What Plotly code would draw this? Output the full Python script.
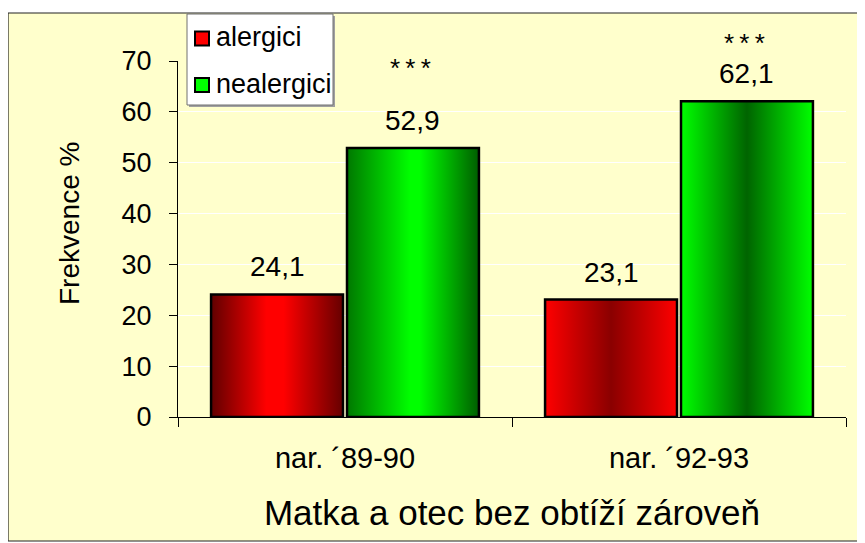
import plotly.graph_objects as go

# ---- data ----
categories = ["nar. \u00b489-90", "nar. \u00b492-93"]
series_names = ["alergici", "nealergici"]
alergici = [24.1, 23.1]
nealergici = [52.9, 62.1]
sig_labels = ["***", "***"]          # significance marks above the nealergici bars
y_ticks = [0, 10, 20, 30, 40, 50, 60, 70]
x_title = "Matka a otec bez obtíží zároveň"
y_title = "Frekvence %"

FONT = "Liberation Sans, Arial, sans-serif"
# the page body has an 8px margin, so the figure is 8px smaller than the window
OFF = 8
W, H = 865 - OFF, 543 - OFF
L, R, T, B = 170, 19, 53, 126
PW, PH = W - L - R, H - T - B


def px_x(p):
    """reference-window pixel x -> paper x"""
    return (p - OFF - L) / PW


def px_y(p):
    """reference-window pixel y -> paper y"""
    return (H - B - (p - OFF)) / PH


bar_w = 0.395
offsets = [-0.2035, 0.2035]
solid = ["#FF0000", "#00FF00"]
grads = {
    (0, 0): [[0, "#600000"], [0.42, "#FF0000"], [0.55, "#FF0000"], [1, "#660000"]],
    (1, 0): [[0, "#007800"], [0.48, "#00FF00"], [0.55, "#00FF00"], [1, "#005E00"]],
    (0, 1): [[0, "#FF0000"], [0.5, "#8A0000"], [1, "#FF0000"]],
    (1, 1): [[0, "#00FF00"], [0.5, "#006400"], [1, "#00FF00"]],
}

fig = go.Figure()
values = [alergici, nealergici]
for s, vals in enumerate(values):
    for i, v in enumerate(vals):
        c = i + offsets[s]
        x0, x1 = c - bar_w / 2, c + bar_w / 2
        fig.add_trace(go.Scatter(
            x=[x0, x1, x1, x0, x0], y=[0, 0, v, v, 0],
            mode="lines", fill="toself",
            fillcolor=solid[s],
            fillgradient=dict(type="horizontal", colorscale=grads[(s, i)]),
            line=dict(color="black", width=2.5),
            name=f"{series_names[s]} – {categories[i]}",
            showlegend=False, hoverinfo="skip",
        ))


def fmt(v):
    return f"{v:.1f}".replace(".", ",")


annotations = []
# value labels
for s, vals in enumerate(values):
    for i, v in enumerate(vals):
        annotations.append(dict(
            x=i + offsets[s], y=v, xref="x", yref="y",
            text=fmt(v), showarrow=False,
            yanchor="bottom", yshift=10,
            font=dict(family=FONT, size=28, color="black"),
        ))
# significance stars (bottom edge of their text box, in window pixels)
sig_bottom = [85.5, 59.5]
for i, lab in enumerate(sig_labels):
    annotations.append(dict(
        x=i + offsets[1] - 0.006, y=px_y(sig_bottom[i]), xref="x", yref="paper",
        text="\u2009".join(lab), showarrow=False, yanchor="bottom",
        font=dict(family=FONT, size=26, color="black"),
    ))
# y axis title
annotations.append(dict(
    x=px_x(70), y=px_y(224), xref="paper", yref="paper",
    text=y_title, textangle=-90, showarrow=False,
    xanchor="center", yanchor="middle",
    font=dict(family=FONT, size=28, color="black"),
))

shapes = []
# panel
shapes.append(dict(type="rect", xref="paper", yref="paper",
                   x0=px_x(8), x1=px_x(864), y0=px_y(541), y1=px_y(13),
                   fillcolor="#FFFFCC", line=dict(color="#222222", width=1.2),
                   layer="below"))

# legend (box, swatches, labels)
leg_x0, leg_x1, leg_y0, leg_y1 = 187, 333, 14, 105
shapes.append(dict(type="rect", xref="paper", yref="paper",
                   x0=px_x(leg_x0 + 2), x1=px_x(leg_x1 + 2),
                   y0=px_y(leg_y1 + 2), y1=px_y(leg_y0 + 2),
                   fillcolor="#A0A0A0", line=dict(width=0), layer="above"))
shapes.append(dict(type="rect", xref="paper", yref="paper",
                   x0=px_x(leg_x0), x1=px_x(leg_x1), y0=px_y(leg_y1), y1=px_y(leg_y0),
                   fillcolor="white", line=dict(color="#707070", width=1), layer="above"))
item_centers = [38.5, 85]
for s, name in enumerate(series_names):
    cy = item_centers[s]
    shapes.append(dict(type="rect", xref="paper", yref="paper",
                       x0=px_x(195), x1=px_x(209), y0=px_y(cy + 7), y1=px_y(cy - 7),
                       fillcolor=solid[s], line=dict(color="black", width=2),
                       layer="above"))
    annotations.append(dict(
        x=px_x(214), y=px_y(cy - 1), xref="paper", yref="paper",
        text=name, showarrow=False, xanchor="left", yanchor="middle",
        font=dict(family=FONT, size=27, color="black"),
    ))

fig.update_layout(
    width=W, height=H,
    margin=dict(l=L, r=R, t=T, b=B, pad=0),
    paper_bgcolor="white", plot_bgcolor="rgba(0,0,0,0)",
    font=dict(family=FONT, color="black"),
    showlegend=False,
    xaxis=dict(
        range=[-0.5, 1.5], tickvals=[0, 1], ticktext=categories,
        ticks="", showgrid=False, zeroline=False,
        showline=True, linecolor="black", linewidth=1,
        tickfont=dict(family=FONT, size=29, color="black"),
        ticklabelstandoff=15,
        minor=dict(tick0=-0.5, dtick=1, ticks="outside", ticklen=9,
                   tickcolor="black", tickwidth=1, showgrid=False),
        title=dict(text=x_title, font=dict(family=FONT, size=35, color="black"),
                   standoff=27),
        fixedrange=True,
    ),
    yaxis=dict(
        range=[0, 70], tickvals=y_ticks, ticks="outside", ticklen=8,
        tickcolor="black", tickwidth=1,
        showgrid=True, gridcolor="white", gridwidth=1.2, zeroline=False,
        showline=True, linecolor="black", linewidth=1,
        tickfont=dict(family=FONT, size=27, color="black"),
        ticklabelstandoff=12,
        fixedrange=True,
    ),
    annotations=annotations,
    shapes=shapes,
)

fig.write_html("out.html")
